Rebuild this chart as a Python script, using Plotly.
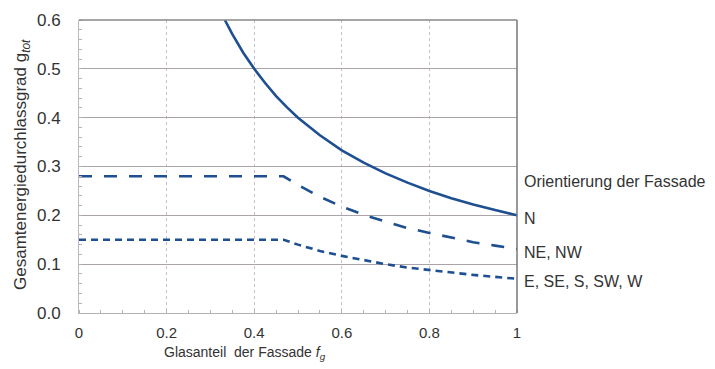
import plotly.graph_objects as go

# N orientation
x_n = [0.333, 0.35, 0.375, 0.4, 0.425, 0.45, 0.475, 0.5, 0.55, 0.6, 0.65, 0.7, 0.75, 0.8, 0.85, 0.9, 0.95, 1.0]
g_n = [0.600, 0.571, 0.533, 0.500, 0.471, 0.444, 0.421, 0.400, 0.364, 0.333, 0.308, 0.286, 0.267, 0.250, 0.235, 0.222, 0.211, 0.200]
# NE, NW
x_ne = [0.0, 0.467, 0.5, 0.55, 0.6, 0.65, 0.7, 0.75, 0.8, 0.85, 0.9, 0.95, 1.0]
g_ne = [0.280, 0.280, 0.262, 0.238, 0.218, 0.201, 0.187, 0.174, 0.164, 0.154, 0.145, 0.138, 0.131]
# E, SE, S, SW, W
x_e = [0.0, 0.467, 0.5, 0.55, 0.6, 0.65, 0.7, 0.75, 0.8, 0.85, 0.9, 0.95, 1.0]
g_e = [0.150, 0.150, 0.140, 0.127, 0.117, 0.108, 0.100, 0.093, 0.088, 0.082, 0.078, 0.074, 0.070]

x_ticks = [0, 0.2, 0.4, 0.6, 0.8, 1]
x_tick_labels = ["0", "0.2", "0.4", "0.6", "0.8", "1"]
y_ticks = [0.0, 0.1, 0.2, 0.3, 0.4, 0.5, 0.6]
y_tick_labels = ["0.0", "0.1", "0.2", "0.3", "0.4", "0.5", "0.6"]

legend_title = "Orientierung der Fassade"
series_labels = ["N", "NE, NW", "E, SE, S, SW, W"]

blue = "#1d4f91"
txt = "#333333"
fig = go.Figure()
fig.add_trace(go.Scatter(x=x_n, y=g_n, mode="lines", line=dict(color=blue, width=2.6)))
fig.add_trace(go.Scatter(x=x_ne, y=g_ne, mode="lines", line=dict(color=blue, width=2.6, dash="13px,12px")))
fig.add_trace(go.Scatter(x=x_e, y=g_e, mode="lines", line=dict(color=blue, width=2.6, dash="7px,5px")))

# page has an 8px body margin: figure origin sits at (8, 8)
L, R, T, B = 71, 206, 12, 64
W, H = 715, 369
PW, PH = W - L - R, H - T - B


def px_to_paper(px, py):
    fx, fy = px - 8, py - 8
    return (fx - L) / PW, (H - B - fy) / PH


font = "Liberation Sans, Arial, sans-serif"
fig.update_layout(
    width=W, height=H,
    margin=dict(l=L, r=R, t=T, b=B),
    paper_bgcolor="white", plot_bgcolor="white",
    showlegend=False,
    font=dict(family=font, size=15, color=txt),
    xaxis=dict(
        range=[0, 1], tickvals=x_ticks, ticktext=x_tick_labels, automargin=False,
        showgrid=True, gridcolor="#c9bcc9", griddash="dot", gridwidth=1,
        showline=True, linecolor="#b8b0b8", linewidth=1,
        zeroline=False, ticks="", ticklabelstandoff=6,
        tickfont=dict(size=15, color=txt),
        minor=dict(dtick=0.05, ticks="inside", ticklen=3, tickcolor="#b8b0b8", showgrid=False),
    ),
    yaxis=dict(
        range=[0, 0.6], tickvals=y_ticks, ticktext=y_tick_labels, automargin=False,
        showgrid=True, gridcolor="#aaa4aa", gridwidth=1,
        showline=True, linecolor="#c0b8c0", linewidth=1,
        zeroline=False, ticks="", ticklabelstandoff=14,
        tickfont=dict(size=17, color=txt),
        minor=dict(dtick=0.02, ticks="inside", ticklen=3, tickcolor="#b8b0b8", showgrid=False),
    ),
)
# darker frame on top and right
fig.add_shape(type="line", xref="paper", yref="paper", x0=0, x1=1, y0=1, y1=1, line=dict(color="#888888", width=1.5))
fig.add_shape(type="line", xref="paper", yref="paper", x0=1, x1=1, y0=0, y1=1, line=dict(color="#777777", width=1.5))

# axis titles
ax, ay = px_to_paper(245, 353)
fig.add_annotation(xref="paper", yref="paper", x=ax, y=ay, text="Glasanteil  der Fassade <i>f<sub>g</sub></i>",
                   showarrow=False, xanchor="center", yanchor="middle", font=dict(size=14, color=txt))
bx, by = px_to_paper(22, 165)
fig.add_annotation(xref="paper", yref="paper", x=bx, y=by, text="Gesamtenergiedurchlassgrad g<sub><i>tot</i></sub>",
                   showarrow=False, textangle=-90, xanchor="center", yanchor="middle", font=dict(size=17, color=txt))

fig.add_annotation(xref="paper", yref="y", x=1.0, y=0.270, text=legend_title, showarrow=False,
                   xanchor="left", xshift=5, font=dict(size=16, color=txt))
for lbl, yv in zip(series_labels, [g_n[-1], g_ne[-1], g_e[-1]]):
    fig.add_annotation(xref="paper", yref="y", x=1.0, y=yv, text=lbl, showarrow=False,
                       xanchor="left", xshift=5, yshift=-3, font=dict(size=16, color=txt))

fig.write_html("out.html")
